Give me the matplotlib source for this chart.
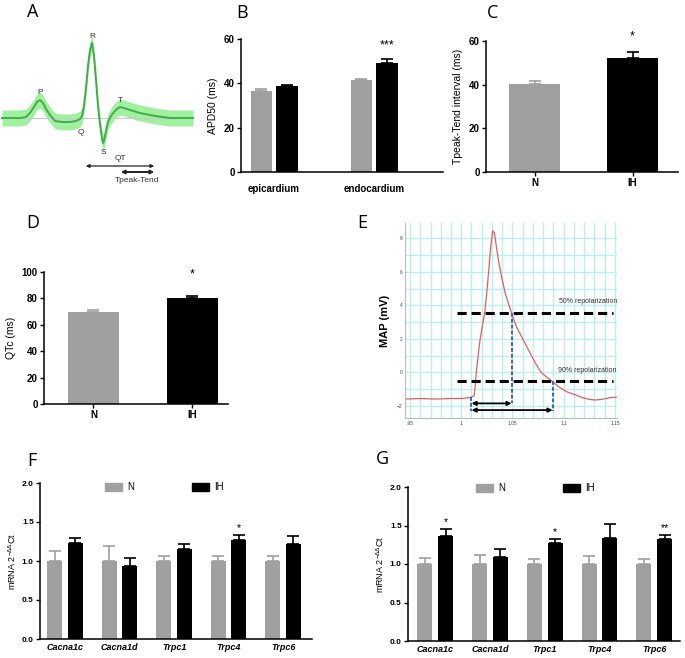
import numpy as np
import matplotlib
matplotlib.use('Agg')
import matplotlib.pyplot as plt
from matplotlib.patches import Rectangle

plt.rcParams['font.family'] = ['Liberation Sans', 'DejaVu Sans']

# ---- data ----
# A: ECG schematic (x, amplitude)
ecg_x = [2, 20, 26, 30, 34, 37, 40, 43, 46, 50, 55, 62, 70, 76, 80, 82, 84, 86, 88, 90, 92,
         94, 96, 98, 100, 102, 103, 104, 106, 108, 111, 114, 117, 120, 124, 130, 140, 155, 170, 193]
ecg_y = [0, 0, 1, 5, 11, 16, 18, 15, 9, 3, -3, -4, -4, -3, -1, 2, 12, 30, 52, 68, 75,
         62, 38, 12, -6, -20, -25, -23, -13, -4, 2, 6, 9, 11, 10, 8, 5, 2, 0, 0]

# B: APD50
b_groups = ['epicardium', 'endocardium']
b_n = [36.5, 41.3]
b_n_err = [1.0, 0.6]
b_ih = [38.8, 49.2]
b_ih_err = [0.6, 2.0]

# C: Tpeak-Tend
c_groups = ['N', 'IH']
c_vals = [40.3, 52.3]
c_err = [1.3, 2.5]

# D: QTc
d_groups = ['N', 'IH']
d_vals = [69.5, 80.5]
d_err = [2.0, 1.5]

# E: MAP trace
map_t = [0.945, 0.96, 0.975, 0.99, 1.0, 1.008, 1.0124, 1.0135, 1.015, 1.018, 1.021, 1.023,
         1.025, 1.027, 1.029, 1.0307, 1.0325, 1.034, 1.036, 1.039, 1.043, 1.0492, 1.054, 1.06,
         1.066, 1.072, 1.078, 1.084, 1.0892, 1.095, 1.103, 1.11, 1.118, 1.125, 1.1305, 1.137,
         1.145, 1.152]
map_v = [-1.58, -1.55, -1.58, -1.55, -1.55, -1.5, -1.4, -0.9, 0.2, 1.8, 2.9, 3.6,
         4.8, 6.2, 7.6, 8.43, 8.3, 7.6, 6.8, 5.8, 4.7, 3.5, 2.7, 2.0,
         1.3, 0.6, 0.0, -0.3, -0.55, -0.85, -1.15, -1.3, -1.5, -1.6, -1.64, -1.6,
         -1.5, -1.47]
rep50 = 3.52
rep90 = -0.49
t_start, t_50, t_90 = 1.010, 1.0492, 1.0892

# F / G: mRNA
genes = ['Cacna1c', 'Cacna1d', 'Trpc1', 'Trpc4', 'Trpc6']
f_n = [1.0, 1.0, 1.0, 1.0, 1.0]
f_n_err = [0.13, 0.19, 0.06, 0.06, 0.07]
f_ih = [1.23, 0.93, 1.16, 1.27, 1.22]
f_ih_err = [0.06, 0.11, 0.06, 0.06, 0.10]
f_stars = ['', '', '', '*', '']
g_n = [1.0, 1.0, 1.0, 1.0, 1.0]
g_n_err = [0.08, 0.12, 0.06, 0.11, 0.06]
g_ih = [1.37, 1.09, 1.27, 1.34, 1.33]
g_ih_err = [0.09, 0.11, 0.06, 0.18, 0.05]
g_stars = ['*', '', '*', '', '**']

GRAY = '#a0a0a0'
W, H = 685, 658
fig = plt.figure(figsize=(W / 100, H / 100), dpi=100)


def add_ax(l, t, r, b):
    return fig.add_axes([l / W, 1 - b / H, (r - l) / W, (b - t) / H])


def style(ax, fs=7):
    for s in ['top', 'right']:
        ax.spines[s].set_visible(False)
    for s in ['left', 'bottom']:
        ax.spines[s].set_linewidth(1.1)
    ax.tick_params(labelsize=fs, width=1.0, length=3, pad=1.5)
    for lab in ax.get_yticklabels():
        lab.set_fontweight('bold')


def up_err(err):
    return [np.zeros(len(err)), err]


ekw = dict(capsize=4, elinewidth=1.2, capthick=1.2)


def two_bars(ax, vals, err, width):
    for i, c in enumerate([GRAY, 'black']):
        ax.bar([i], [vals[i]], width, color=c, yerr=up_err([err[i]]),
               error_kw=dict(ecolor=c, **ekw))


# ---- A ----
ax = add_ax(0, 20, 200, 190)
ex = np.array(ecg_x)
ey = np.array(ecg_y)
ax.fill_between(ex, ey - 8, ey + 8, color='#8fee8f', alpha=0.85, lw=0)
ax.plot([2, 193], [0, 0], color='#c8c8c8', lw=0.8)
ax.plot(ex, ey, color='#3fae4a', lw=1.4)
ax.set_xlim(0, 200)
ax.set_ylim(-72, 98)
ax.axis('off')
lab_kw = dict(fontsize=6, color='#333333', ha='center', va='center')
ax.text(40, 25, 'P', **lab_kw)
ax.text(92, 81, 'R', **lab_kw)
ax.text(81, -14, 'Q', **lab_kw)
ax.text(103, -35, 'S', **lab_kw)
ax.text(120, 18, 'T', **lab_kw)
ax.text(120, -41, 'QT', **lab_kw)
ax.text(137, -62, 'Tpeak-Tend', **lab_kw)
ax.annotate('', xy=(83, -48), xytext=(157, -48),
            arrowprops=dict(arrowstyle='<|-|>', color='#222222', lw=0.9, mutation_scale=5))
ax.annotate('', xy=(118, -54), xytext=(157, -54),
            arrowprops=dict(arrowstyle='<|-|>', color='#222222', lw=1.4, mutation_scale=5))

# ---- B ----
ax = add_ax(241, 39, 443, 172)
xb = np.arange(len(b_groups))
ax.bar(xb - 0.13, b_n, 0.21, color=GRAY, yerr=up_err(b_n_err),
       error_kw=dict(ecolor=GRAY, **ekw))
ax.bar(xb + 0.13, b_ih, 0.22, color='black', yerr=up_err(b_ih_err),
       error_kw=dict(ecolor='black', **ekw))
ax.set_xlim(-0.33, 1.69)
ax.set_ylim(0, 60)
ax.set_yticks([0, 20, 40, 60])
ax.set_xticks(xb)
ax.set_xticklabels(b_groups, fontweight='bold')
style(ax)
ax.tick_params(axis='x', length=0, pad=9)
ax.set_ylabel('APD50 (ms)', fontsize=7.5, labelpad=4)
ax.text(1.13, 57, '***', ha='center', va='center', fontsize=9)

# ---- C ----
ax = add_ax(486, 41, 678, 172)
two_bars(ax, c_vals, c_err, 0.52)
ax.set_xlim(-0.495, 1.464)
ax.set_ylim(0, 60)
ax.set_yticks([0, 20, 40, 60])
ax.set_xticks([0, 1])
ax.set_xticklabels(c_groups, fontweight='bold')
style(ax)
ax.set_ylabel('Tpeak-Tend interval (ms)', fontsize=7.5, labelpad=4)
ax.text(1, 62, '*', ha='center', va='center', fontsize=9, clip_on=False)

# ---- D ----
ax = add_ax(44, 272, 228, 404)
two_bars(ax, d_vals, d_err, 0.515)
ax.set_xlim(-0.5, 1.36)
ax.set_ylim(0, 100)
ax.set_yticks(range(0, 101, 20))
ax.set_xticks([0, 1])
ax.set_xticklabels(d_groups, fontweight='bold')
style(ax)
ax.set_ylabel('QTc (ms)', fontsize=7.5, labelpad=4)
ax.text(1, 98, '*', ha='center', va='center', fontsize=9, clip_on=False)

# ---- E ----
ax = add_ax(405, 223, 617, 418)
ax.set_xlim(0.9451, 1.152)
ax.set_ylim(-2.71, 8.9)
for gx in np.arange(0.95, 1.155, 0.01):
    ax.axvline(gx, color='#bdeeee', lw=1.0, zorder=0)
for gy in range(-2, 9):
    ax.axhline(gy, color='#bdeeee', lw=1.0, zorder=0)
ax.plot(map_t, map_v, color='#dc6060', lw=0.9)
ax.plot([0.9956, 1.1478], [rep50, rep50], color='black', lw=2.2, ls=(0, (3, 1.6)))
ax.plot([0.9956, 1.1478], [rep90, rep90], color='black', lw=2.2, ls=(0, (3, 1.6)))
blue = '#3a62c8'
ax.plot([t_start, t_start], [-1.45, -2.27], color=blue, ls=(0, (2, 1)), lw=1.4)
ax.plot([t_50, t_50], [rep50, -1.84], color=blue, ls=(0, (2, 1)), lw=1.4)
ax.plot([t_90, t_90], [rep90, -2.27], color=blue, ls=(0, (2, 1)), lw=1.4)
ax.annotate('', xy=(t_start, -1.84), xytext=(t_50, -1.84),
            arrowprops=dict(arrowstyle='<|-|>', color='black', lw=1.3, mutation_scale=6,
                            shrinkA=0, shrinkB=0))
ax.annotate('', xy=(t_start, -2.24), xytext=(t_90, -2.24),
            arrowprops=dict(arrowstyle='<|-|>', color='black', lw=1.3, mutation_scale=6,
                            shrinkA=0, shrinkB=0))
ax.text(1.152, 4.2, '50% repolarization', ha='right', va='center', fontsize=5, color='#333333')
ax.text(1.152, 0.14, '90% repolarization', ha='right', va='center', fontsize=5, color='#333333')
ax.set_xticks([0.95, 1.0, 1.05, 1.1, 1.15])
ax.set_xticklabels(['.95', '1', '1.05', '1.1', '1.15'])
ax.set_yticks([-2, 0, 2, 4, 6, 8])
ax.tick_params(labelsize=3.5, length=0, pad=2, colors='#444444')
for s in ['top', 'right']:
    ax.spines[s].set_visible(False)
for s in ['left', 'bottom']:
    ax.spines[s].set_color('#bbbbbb')
ax.set_ylabel('MAP (mV)', fontsize=8, fontweight='bold', labelpad=5)


# ---- F / G ----
def mrna(ax, n, n_err, ih, ih_err, stars, xlim, leg_px):
    x = np.arange(len(genes))
    ax.bar(x - 0.19, n, 0.275, color=GRAY, yerr=up_err(n_err),
           error_kw=dict(ecolor=GRAY, **ekw))
    ax.bar(x + 0.19, ih, 0.275, color='black', yerr=up_err(ih_err),
           error_kw=dict(ecolor='black', **ekw))
    for i, s in enumerate(stars):
        if s:
            ax.text(x[i] + 0.19, ih[i] + ih_err[i] + 0.09, s, ha='center', va='center', fontsize=7.5)
    ax.set_xlim(*xlim)
    ax.set_ylim(0, 2.0)
    ax.set_yticks([0, 0.5, 1.0, 1.5, 2.0])
    ax.set_yticklabels(['0.0', '0.5', '1.0', '1.5', '2.0'])
    ax.set_xticks(x)
    ax.set_xticklabels(genes, fontstyle='italic', fontweight='bold')
    style(ax, 6)
    ax.tick_params(axis='x', length=0, pad=3, labelsize=6.5)
    ax.set_ylabel(r'mRNA 2$^{\mathregular{-\Delta\Delta}}$Ct', fontsize=6.5, labelpad=3)
    # legend boxes
    (l0, lt, aw, ah) = leg_px
    for dx, c, lab in [(0, GRAY, 'N'), (87, 'black', 'IH')]:
        ax.add_patch(Rectangle(((l0 + dx) / aw, 1 - (lt + 4) / ah), 17 / aw, 8 / ah,
                               transform=ax.transAxes, color=c, clip_on=False))
        ax.text((l0 + dx + 22) / aw, 1 - lt / ah, lab, transform=ax.transAxes,
                ha='left', va='center', fontsize=7)


ax = add_ax(40, 483, 312, 639)
mrna(ax, f_n, f_n_err, f_ih, f_ih_err, f_stars, (-0.46, 4.53), (65, 4, 272, 156))
ax = add_ax(408, 487, 680, 641)
mrna(ax, g_n, g_n_err, g_ih, g_ih_err, g_stars, (-0.50, 4.47), (68, 1, 272, 154))

# panel letters
for lab, x, y in [('A', 33, 12), ('B', 242, 13), ('C', 493, 13), ('D', 33, 223),
                  ('E', 362, 223), ('F', 32, 461), ('G', 382, 459)]:
    fig.text(x / W, 1 - y / H, lab, fontsize=13, family='Open Sans', ha='center', va='center')

fig.savefig('out.png', dpi=100)
